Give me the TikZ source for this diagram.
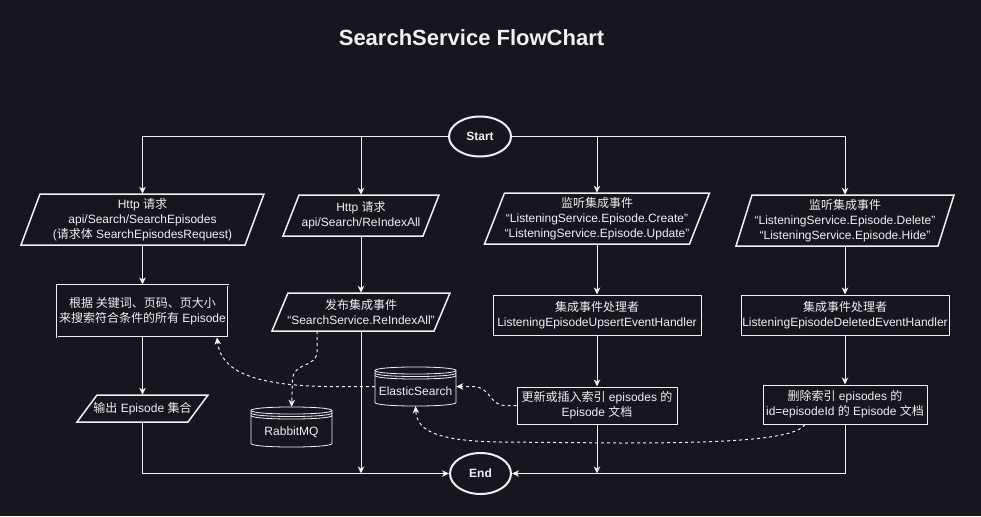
\documentclass[tikz,border=0pt]{standalone}
\usepackage{fontspec}
\setmainfont{Liberation Sans}
\newfontfamily\cjk{Noto Sans CJK SC}
\usetikzlibrary{arrows.meta,shapes.geometric}
\definecolor{bg}{RGB}{24,21,30}
\definecolor{fg}{RGB}{240,240,240}
\newcommand\parashape[7]{%
  \pgfmathsetmacro\pxl{#2-#4/2}\pgfmathsetmacro\pxr{#2+#4/2}%
  \pgfmathsetmacro\pyt{#3-#5/2}\pgfmathsetmacro\pyb{#3+#5/2}%
  \pgfmathsetmacro\psk{#6/2}%
  \draw[pshape] (\pxl-\psk,\pyb) -- (\pxr-\psk,\pyb) -- (\pxr+\psk,\pyt) -- (\pxl+\psk,\pyt) -- cycle;
  \node[box, minimum width=#4pt, minimum height=#5pt] (#1) at (#2,#3) {#7};}
\newcommand\dbshape[6]{%
  \pgfmathsetmacro\dbxl{#2-#4/2}\pgfmathsetmacro\dbxr{#2+#4/2}%
  \pgfmathsetmacro\dbyt{#3-#5/2+3.5}\pgfmathsetmacro\dbyb{#3+#5/2-3.5}%
  \draw[dbline] (\dbxl,\dbyt) .. controls (\dbxl,\dbyt-4.7) and (\dbxr,\dbyt-4.7) .. (\dbxr,\dbyt)
     -- (\dbxr,\dbyb) .. controls (\dbxr,\dbyb+4.7) and (\dbxl,\dbyb+4.7) .. (\dbxl,\dbyb) -- cycle;
  \foreach \dd in {0,2.5,5}{%
    \draw[dbline, fill=none] (\dbxl,\dbyt+\dd) .. controls (\dbxl,\dbyt+\dd+4.7) and (\dbxr,\dbyt+\dd+4.7) .. (\dbxr,\dbyt+\dd);}
  \node[box, minimum width=#4pt, minimum height=#5pt] (#1) at (#2,#3) {\raisebox{-5pt}[\height][\depth]{#6}};}
\begin{document}
\begin{tikzpicture}[x=1pt,y=-1pt,
  box/.style={text=fg, align=center, inner sep=0pt, font=\fontsize{12}{15}\selectfont},
  pshape/.style={draw=fg, line width=1.5pt, line join=miter, fill=bg},
  rbox/.style={box, draw=fg, fill=bg, line width=1pt},
  conn/.style={draw=fg, line width=1pt, -{Stealth[length=7pt,width=6.5pt,inset=2pt]}},
  dconn/.style={conn, dash pattern=on 3pt off 3pt},
  term/.style={box, ellipse, draw=fg, fill=bg, line width=2pt, font=\fontsize{12}{15}\selectfont\bfseries},
  dbline/.style={draw=fg, line width=0.8pt, fill=bg}]
\fill[bg] (0,0) rectangle (981,516);
\useasboundingbox (0,0) rectangle (981,516);

\node[text=fg, font=\fontsize{22}{26}\selectfont\bfseries, anchor=base] (title) at (471.5,46) {SearchService FlowChart};

\node[term, minimum width=62pt, minimum height=40pt] (start) at (480,136.5) {Start};
\node[term, minimum width=61pt, minimum height=41pt] (end) at (480.5,473.5) {End};

\parashape{p1}{142.5}{219.5}{224}{51}{19}{Http {\cjk 请求}\\api/Search/SearchEpisodes\\({\cjk 请求体} SearchEpisodesRequest)}
\parashape{p2}{361}{215.5}{140}{41}{16}{Http {\cjk 请求}\\api/Search/ReIndexAll}
\parashape{p3}{597}{218.5}{205}{51}{20}{{\cjk 监听集成事件}\\“ListeningService.Episode.Create”\\“ListeningService.Episode.Update”}
\parashape{p4}{845}{220.5}{202}{51}{16}{{\cjk 监听集成事件}\\“ListeningService.Episode.Delete”\\“ListeningService.Episode.Hide”}
\parashape{p5}{361}{312}{162}{38}{16}{{\cjk 发布集成事件}\\“SearchService.ReIndexAll”}
\parashape{p6}{142.5}{408.5}{111}{27}{20}{{\cjk 输出} Episode {\cjk 集合}}

\node[box, minimum width=171pt, minimum height=52pt, draw=fg, double=bg, double distance=1pt, line width=0.9pt] (r1) at (142.5,311)
  {{\cjk 根据 关键词、页码、页大小}\\{\cjk 来搜索符合条件的所有} Episode};
\node[rbox, minimum width=208pt, minimum height=40pt] (r2) at (597,315) {{\cjk 集成事件处理者}\\ListeningEpisodeUpsertEventHandler};
\node[rbox, minimum width=208pt, minimum height=40pt] (r3) at (845,315) {{\cjk 集成事件处理者}\\ListeningEpisodeDeletedEventHandler};
\node[rbox, minimum width=160pt, minimum height=37pt] (r4) at (597,405.5) {{\cjk 更新或插入索引} episodes {\cjk 的}\\Episode {\cjk 文档}};
\node[rbox, minimum width=164pt, minimum height=39pt] (r5) at (845,404.5) {{\cjk 删除索引} episodes {\cjk 的}\\id=episodeId {\cjk 的} Episode {\cjk 文档}};

\dbshape{rmq}{291.5}{427}{81}{40}{RabbitMQ}
\dbshape{es}{415.5}{386.5}{81}{39}{ElasticSearch}

% solid connectors
\draw[conn] (start.west) -| (p1.north);
\draw[conn] (start.west) -| (p2.north);
\draw[conn] (start.east) -| (p3.north);
\draw[conn] (start.east) -| (p4.north);
\draw[conn] (p1.south) -- (r1.north);
\draw[conn] (r1.south) -- (p6.north);
\draw[conn] (p2.south) -- (p5.north);
\draw[conn] (p3.south) -- (r2.north);
\draw[conn] (r2.south) -- (r4.north);
\draw[conn] (p4.south) -- (r3.north);
\draw[conn] (r3.south) -- (r5.north);
\draw[conn] (p6.south) |- (end.west);
\draw[conn] (r5.south) |- (end.east);
\draw[conn] (p5.south) -- (p5.south |- end.west);
\draw[conn] (r4.south) -- (r4.south |- end.east);

% dashed connectors
\draw[dconn] ([xshift=-44pt]p5.south) -- (317,352) .. controls (316,368) and (293,362) .. (292.5,380) -- (rmq.north);
\draw[dconn] (es.west) -- (325,386.5) .. controls (255,385) and (221,372) .. ([xshift=74.5pt]r1.south);
\draw[dconn] (r4.west) -- (506,405.5) .. controls (488,405.5) and (492,386.5) .. (472,386.5) -- (es.east);
\draw[dconn] ([xshift=-40pt]r5.south) .. controls (795,440) and (720,443) .. (620,443) -- (500,442) .. controls (430,441) and (417,428) .. (es.south);
\end{tikzpicture}
\end{document}
